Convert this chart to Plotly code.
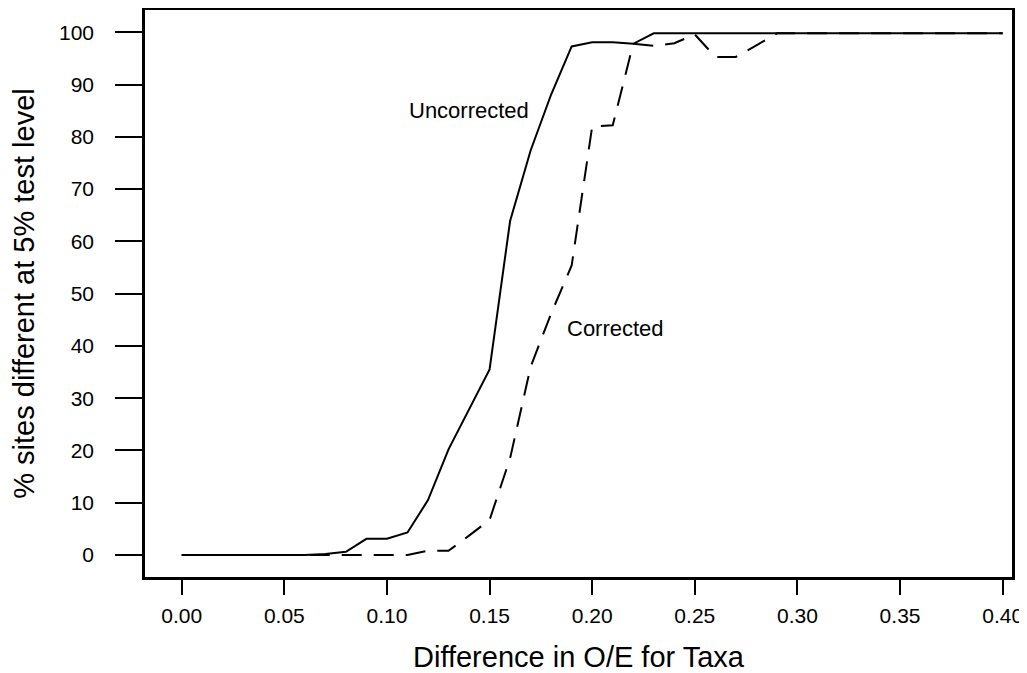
import plotly.graph_objects as go

diff = [round(i * 0.01, 2) for i in range(41)]
uncorrected = [0.0, 0.0, 0.0, 0.0, 0.0, 0.0, 0.0, 0.2, 0.6, 3.1,
               3.1, 4.3, 10.5, 20.2, 27.7, 35.5, 63.9, 77.4, 88.1, 97.3,
               98.1, 98.1, 97.8, 99.8, 99.8, 99.8, 99.8, 99.8, 99.8, 99.8,
               99.8, 99.8, 99.8, 99.8, 99.8, 99.8, 99.8, 99.8, 99.8, 99.8, 99.8]
corrected = [0.0, 0.0, 0.0, 0.0, 0.0, 0.0, 0.0, 0.0, 0.0, 0.0,
             0.0, 0.0, 0.8, 0.8, 3.7, 6.7, 18.5, 36.0, 46.2, 55.4,
             82.0, 82.2, 97.8, 97.4, 97.9, 99.6, 95.3, 95.3, 97.5, 99.8,
             99.8, 99.8, 99.8, 99.8, 99.8, 99.8, 99.8, 99.8, 99.8, 99.8, 99.8]
x_ticks = [0.00, 0.05, 0.10, 0.15, 0.20, 0.25, 0.30, 0.35, 0.40]
x_tick_labels = ["0.00", "0.05", "0.10", "0.15", "0.20", "0.25", "0.30", "0.35", "0.40"]
y_ticks = [0, 10, 20, 30, 40, 50, 60, 70, 80, 90, 100]

FONT = "Liberation Sans, Arial, sans-serif"

fig = go.Figure()
fig.add_trace(go.Scatter(x=diff, y=uncorrected, mode="lines", name="Uncorrected",
                         line=dict(color="black", width=2)))
fig.add_trace(go.Scatter(x=diff, y=corrected, mode="lines", name="Corrected",
                         line=dict(color="black", width=2, dash="20px,12px")))

fig.add_annotation(x=0.1096, y=85.1, text="Uncorrected", showarrow=False,
                   xanchor="left", yanchor="middle", font=dict(size=22, color="black", family=FONT))
fig.add_annotation(x=0.1867, y=43.4, text="Corrected", showarrow=False,
                   xanchor="left", yanchor="middle", font=dict(size=22, color="black", family=FONT))

# page body has an 8px default margin, so the figure is sized/offset to compensate
fig.update_layout(
    width=1019, height=665,
    margin=dict(l=137, r=15, t=2, b=96),
    paper_bgcolor="white", plot_bgcolor="white",
    showlegend=False,
    font=dict(family=FONT, color="black"),
    xaxis=dict(
        range=[-0.01788, 0.40454], tickvals=x_ticks, ticktext=x_tick_labels,
        showgrid=False, zeroline=False, automargin=False,
        showline=True, linecolor="black", linewidth=2.5, mirror=True,
        ticks="outside", ticklen=15, tickwidth=2, tickcolor="black",
        tickfont=dict(size=21, color="black"), ticklabelstandoff=3,
        title=dict(text="Difference in O/E for Taxa", font=dict(size=29, color="black"), standoff=21),
    ),
    yaxis=dict(
        range=[-4.21, 104.27], tickvals=y_ticks,
        showgrid=False, zeroline=False, automargin=False,
        showline=True, linecolor="black", linewidth=2.5, mirror=True,
        ticks="outside", ticklen=27, tickwidth=2, tickcolor="black",
        tickfont=dict(size=21, color="black"), ticklabelstandoff=17,
        title=dict(text="% sites different at 5% test level", font=dict(size=29, color="black"), standoff=17),
    ),
)

fig.write_html("out.html")
